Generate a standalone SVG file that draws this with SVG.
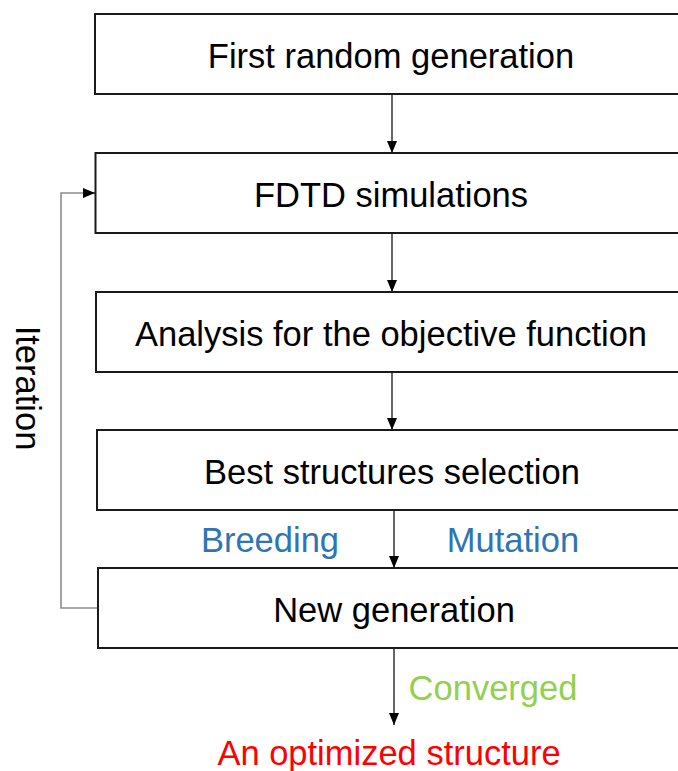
<svg xmlns="http://www.w3.org/2000/svg" width="678" height="771" viewBox="0 0 678 771">
<style>
.box{fill:#fff;stroke:#1a1a1a;stroke-width:2}
.t{font-family:"Liberation Sans",Arial,sans-serif;font-size:34.5px;text-anchor:middle;fill:#000}
.c{stroke:#000;stroke-width:1.2;fill:none}
.loop{stroke:#8c8c8c;stroke-width:1.6;fill:none}
</style>
<defs>
<marker id="ah" viewBox="0 0 12 10" refX="12" refY="5" markerWidth="12" markerHeight="10" markerUnits="userSpaceOnUse" orient="auto">
<path d="M0,0 L12,5 L0,10 Z" fill="#000"/>
</marker>
</defs>
<rect width="678" height="771" fill="#fff"/>
<g id="connectors">
<line class="c" x1="392" y1="94" x2="392" y2="153" marker-end="url(#ah)"/>
<line class="c" x1="392" y1="233" x2="392" y2="292" marker-end="url(#ah)"/>
<line class="c" x1="392" y1="372" x2="392" y2="430" marker-end="url(#ah)"/>
<line class="c" x1="394" y1="510" x2="394" y2="568" marker-end="url(#ah)"/>
<line class="c" x1="394" y1="648" x2="394" y2="725" marker-end="url(#ah)"/>
<polyline class="loop" points="97,608 61,608 61,193 84,193"/>
<line class="c" x1="84" y1="193" x2="95" y2="193" marker-end="url(#ah)"/>
</g>
<g id="n1"><rect class="box" x="95" y="14" width="600" height="80"/><text class="t" x="391" y="68">First random generation</text></g>
<g id="n2"><rect class="box" x="95.5" y="153" width="600" height="80"/><text class="t" x="391" y="207">FDTD simulations</text></g>
<g id="n3"><rect class="box" x="96" y="292" width="600" height="80"/><text class="t" x="391" y="346">Analysis for the objective function</text></g>
<g id="n4"><rect class="box" x="97" y="430" width="600" height="80"/><text class="t" x="392" y="484">Best structures selection</text></g>
<g id="n5"><rect class="box" x="98" y="568" width="600" height="80"/><text class="t" x="394" y="622">New generation</text></g>
<g id="labels">
<text class="t" x="270" y="552" style="fill:#2e75b6">Breeding</text>
<text class="t" x="513" y="552" style="fill:#2e75b6">Mutation</text>
<text class="t" x="493" y="700" style="fill:#92d050">Converged</text>
<text class="t" x="389" y="765" style="fill:#ff0000">An optimized structure</text>
<text class="t" transform="translate(16,388) rotate(90)">Iteration</text>
</g>
</svg>
